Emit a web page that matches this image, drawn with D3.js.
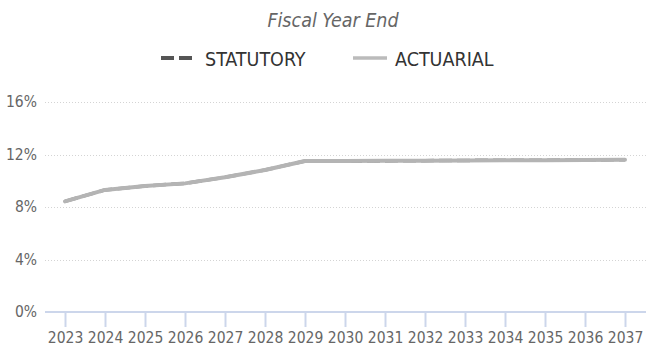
<!DOCTYPE html>
<html>
<head>
<meta charset="utf-8">
<script src="https://cdn.jsdelivr.net/npm/d3@7"></script>
<style>
  html, body { margin: 0; padding: 0; background: #fff; }
  svg { display: block; font-family: "DejaVu Sans Condensed", "DejaVu Sans", sans-serif; }
</style>
</head>
<body>
<svg id="chart" width="646" height="347"></svg>
<script>
// Contribution rates by fiscal year end (% of payroll)
const years = ["2023","2024","2025","2026","2027","2028","2029","2030","2031","2032","2033","2034","2035","2036","2037"];
const statutory = [8.43, 9.30, 9.60, 9.80, 10.26, 10.82, 11.50, 11.48, 11.51, 11.53, 11.55, 11.56, 11.57, 11.58, 11.60];
const actuarial = [8.43, 9.30, 9.60, 9.80, 10.26, 10.82, 11.50, 11.50, 11.52, 11.53, 11.55, 11.56, 11.57, 11.58, 11.60];
const yTicks = [0, 4, 8, 12, 16];
const seriesNames = ["STATUTORY", "ACTUARIAL"];

const svg = d3.select("#chart");
const plotLeft = 45, plotRight = 645, plotTop = 102, plotBottom = 312;

const x = d3.scalePoint().domain(years).range([plotLeft, plotRight]).padding(0.5);
const y = d3.scaleLinear().domain([0, 16]).range([plotBottom, plotTop]);

// Title
svg.append("text")
  .attr("x", 333).attr("y", 27)
  .attr("text-anchor", "middle")
  .attr("font-style", "italic")
  .attr("font-size", 19.5)
  .attr("fill", "#666")
  .text("Fiscal Year End");

// Legend
const legend = svg.append("g");
legend.append("line")
  .attr("x1", 161).attr("x2", 193).attr("y1", 58).attr("y2", 58)
  .attr("stroke", "#555").attr("stroke-width", 4)
  .attr("stroke-dasharray", "13,5");
legend.append("text")
  .attr("x", 205).attr("y", 65.5)
  .attr("font-size", 19.5).attr("fill", "#333")
  .text(seriesNames[0]);
legend.append("line")
  .attr("x1", 353).attr("x2", 387).attr("y1", 58).attr("y2", 58)
  .attr("stroke", "#bbb").attr("stroke-width", 3.5);
legend.append("text")
  .attr("x", 395).attr("y", 65.5)
  .attr("font-size", 19.5).attr("fill", "#333")
  .text(seriesNames[1]);

// Horizontal grid lines
const grid = svg.append("g");
grid.selectAll("line")
  .data(yTicks.filter(d => d > 0))
  .join("line")
  .attr("x1", plotLeft).attr("x2", plotRight + 1)
  .attr("y1", d => Math.round(y(d)) + 0.5)
  .attr("y2", d => Math.round(y(d)) + 0.5)
  .attr("stroke", "#d4d4d4")
  .attr("stroke-width", 1)
  .attr("stroke-dasharray", "1,2");

// Y axis labels
const yAxis = d3.axisLeft(y).tickValues(yTicks).tickSize(0).tickPadding(8).tickFormat(d => d + "%");
svg.append("g")
  .attr("transform", `translate(${plotLeft},0)`)
  .call(yAxis)
  .call(g => g.select(".domain").remove())
  .call(g => g.selectAll("text")
    .attr("font-family", "DejaVu Sans Condensed, DejaVu Sans, sans-serif")
    .attr("font-size", 15.5).attr("fill", "#666"));

// X axis
const xAxis = d3.axisBottom(x).tickSize(15).tickPadding(5).tickSizeOuter(0);
svg.append("g")
  .attr("transform", `translate(0,${plotBottom})`)
  .call(xAxis)
  .call(g => g.select(".domain").attr("stroke", "#ccd6eb").attr("stroke-width", 2).attr("d", `M${plotLeft},0H${plotRight + 1}`))
  .call(g => g.selectAll(".tick line").attr("stroke", "#ccd6eb").attr("stroke-width", 2))
  .call(g => g.selectAll("text")
    .attr("font-family", "DejaVu Sans Condensed, DejaVu Sans, sans-serif")
    .attr("font-size", 15.5).attr("fill", "#666"));

// Series lines
const line = d3.line().x((d, i) => x(years[i])).y(d => y(d));

svg.append("path")
  .datum(statutory)
  .attr("d", line)
  .attr("fill", "none")
  .attr("stroke", "#888")
  .attr("stroke-width", 3.5)
  .attr("stroke-dasharray", "13,5")
  .attr("stroke-linejoin", "round");

svg.append("path")
  .datum(actuarial)
  .attr("d", line)
  .attr("fill", "none")
  .attr("stroke", "#b4b4b4")
  .attr("stroke-width", 4)
  .attr("stroke-linecap", "round")
  .attr("stroke-linejoin", "round");
</script>
</body>
</html>
